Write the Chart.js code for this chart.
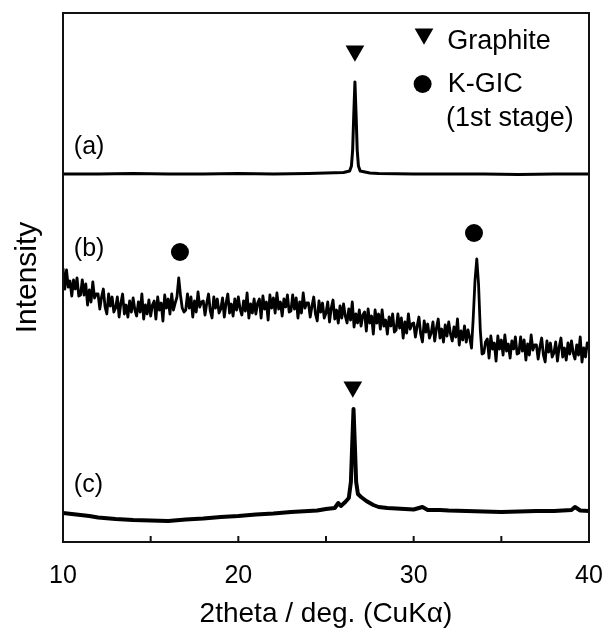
<!DOCTYPE html>
<html>
<head>
<meta charset="utf-8">
<script src="https://cdn.jsdelivr.net/npm/chart.js@4/dist/chart.umd.min.js"></script>
<style>
  body { margin: 0; background: #fff; }
  canvas { display: block; }
</style>
</head>
<body>
<canvas id="xrd" width="608" height="633"></canvas>
<script>
// (a) graphite
var aX = [10, 12, 14, 16, 18, 20, 22, 24, 25, 26, 26.35, 26.45, 26.52, 26.58, 26.65, 26.72, 26.78, 26.85, 26.95, 27.5, 28, 30, 32, 34, 36, 38, 40];
var aY = [368, 368, 368.5, 368, 368, 368.5, 368, 368.5, 369, 369.5, 371, 376, 392, 425, 460, 425, 392, 376, 371, 369, 368.5, 368, 368, 368, 367.5, 368, 368];

// (b) K-GIC, step scan 10-40 deg, 0.1 deg step
var bStart = 10;
var bStep = 0.1;
var bY = [
  274, 253, 272, 255, 261, 246, 262, 253, 264, 246,
  247, 262, 247, 258, 237, 252, 240, 260, 244, 248,
  248, 233, 245, 253, 235, 228, 248, 236, 245, 230,
  234, 245, 225, 239, 248, 228, 237, 225, 241, 230,
  244, 232, 226, 240, 230, 248, 223, 237, 228, 242,
  226, 237, 241, 223, 245, 232, 239, 221, 247, 234,
  243, 228, 248, 232, 239, 245, 264, 247, 234, 230,
  232, 248, 234, 245, 225, 241, 230, 250, 235, 240,
  241, 227, 239, 248, 231, 224, 245, 234, 243, 229,
  233, 244, 225, 239, 248, 229, 238, 226, 243, 232,
  245, 233, 227, 241, 231, 249, 224, 238, 229, 243,
  228, 239, 243, 224, 246, 233, 240, 222, 247, 234,
  244, 229, 249, 233, 240, 226, 243, 235, 247, 230,
  231, 247, 233, 244, 224, 240, 229, 249, 234, 239,
  239, 225, 236, 245, 228, 221, 241, 230, 239, 224,
  229, 240, 220, 234, 242, 223, 232, 219, 236, 224,
  238, 226, 219, 233, 222, 240, 215, 228, 219, 232,
  216, 227, 230, 211, 233, 219, 226, 208, 232, 219,
  228, 213, 232, 216, 222, 208, 225, 216, 228, 210,
  212, 228, 214, 224, 204, 220, 209, 228, 213, 218,
  219, 205, 216, 225, 208, 200, 221, 210, 218, 204,
  209, 220, 201, 214, 223, 204, 213, 200, 217, 206,
  220, 208, 201, 215, 205, 223, 197, 211, 202, 216,
  200, 212, 204, 194, 225, 262, 283, 258, 212, 188,
  189, 200, 203, 184, 206, 193, 199, 181, 206, 193,
  202, 187, 207, 191, 198, 184, 201, 193, 205, 188,
  189, 205, 191, 202, 182, 198, 187, 207, 192, 197,
  197, 183, 195, 204, 187, 180, 201, 190, 199, 185,
  189, 200, 181, 195, 204, 185, 194, 182, 199, 188,
  201, 189, 183, 197, 187, 205, 180, 194, 185, 199,
  193
];

// (c)
var cX = [10, 10.5, 11, 11.5, 12, 13, 14, 15, 16, 17, 18, 19, 20, 21, 22, 23, 24, 24.5, 25, 25.5, 25.7, 25.85, 26.1, 26.3, 26.42, 26.49, 26.57, 26.65, 26.72, 26.82, 27, 27.3, 27.7, 28, 28.5, 29, 30, 30.5, 30.8, 31.5, 32, 33, 34, 35, 36, 37, 38, 39, 39.2, 39.5, 40];
var cY = [29, 28, 27, 26, 24.5, 23, 22, 21.5, 21, 22.5, 23.5, 25, 26, 27.5, 28.5, 30, 31, 31.5, 33, 34, 39, 36, 40, 44, 60, 95, 133, 95, 60, 48, 45, 41, 37, 35, 34, 33.5, 32.5, 35, 32, 32, 31.5, 31, 30.5, 30, 30.5, 31, 31, 32, 35, 31.5, 31];

// peak markers
var graphiteX = [26.65, 26.53, 30.59];
var graphiteY = [491, 155, 508];
var kgicX = [16.67, 33.44, 30.51];
var kgicY = [290, 309, 458];

var xTicks = [10, 20, 30, 40];

function pts(xs, ys) {
  var out = [];
  for (var i = 0; i < ys.length; i++) out.push({x: xs[i], y: ys[i]});
  return out;
}

function bPoints() {
  var out = [];
  for (var i = 0; i < bY.length; i++) out.push({x: +(bStart + i * bStep).toFixed(1), y: bY[i]});
  return out;
}

Chart.defaults.font.family = "'Liberation Sans', Arial, sans-serif";
Chart.defaults.color = '#000';

// frame, inward ticks and the text notes
var decor = {
  id: 'decor',
  afterDraw: function(chart) {
    var ctx = chart.ctx;
    var a = chart.chartArea;
    var xs = chart.scales.x, ys = chart.scales.y;
    ctx.save();
    ctx.strokeStyle = '#111';
    ctx.lineWidth = 2;
    ctx.strokeRect(a.left, a.top, a.right - a.left, a.bottom - a.top);
    ctx.beginPath();
    for (var v = 15; v < 40; v += 5) {
      var px = xs.getPixelForValue(v);
      ctx.moveTo(px, a.bottom);
      ctx.lineTo(px, a.bottom - 6);
    }
    ctx.stroke();

    ctx.fillStyle = '#000';
    ctx.textBaseline = 'alphabetic';
    ctx.font = "25px 'Liberation Sans', Arial, sans-serif";
    ctx.fillText('(a)', xs.getPixelForValue(10.62), ys.getPixelForValue(388));
    ctx.fillText('(b)', xs.getPixelForValue(10.62), ys.getPixelForValue(286));
    ctx.fillText('(c)', xs.getPixelForValue(10.62), ys.getPixelForValue(50));
    ctx.font = "27px 'Liberation Sans', Arial, sans-serif";
    ctx.fillText('Graphite', xs.getPixelForValue(31.91), ys.getPixelForValue(493));
    ctx.fillText('K-GIC', xs.getPixelForValue(31.95), ys.getPixelForValue(450));
    ctx.fillText('(1st stage)', xs.getPixelForValue(31.85), ys.getPixelForValue(416));
    ctx.restore();
  }
};

var ctx = document.getElementById('xrd').getContext('2d');
var xrdChart = new Chart(ctx, {
  type: 'line',
  data: {
    datasets: [
      {data: pts(aX, aY), borderColor: '#000', borderWidth: 3, pointRadius: 0, borderJoinStyle: 'round'},
      {data: bPoints(), borderColor: '#000', borderWidth: 2.8, pointRadius: 0, borderJoinStyle: 'round'},
      {data: pts(cX, cY), borderColor: '#000', borderWidth: 4, pointRadius: 0, borderJoinStyle: 'round'},
      {type: 'scatter', data: pts(graphiteX, graphiteY), pointStyle: 'triangle', pointRotation: 180,
        pointRadius: 10.8, backgroundColor: '#000', borderWidth: 0},
      {type: 'scatter', data: pts(kgicX, kgicY), pointStyle: 'circle',
        pointRadius: 9, backgroundColor: '#000', borderWidth: 0}
    ]
  },
  options: {
    responsive: false,
    animation: false,
    layout: {padding: {left: 0, right: 19, top: 13, bottom: 0}},
    plugins: {legend: {display: false}, tooltip: {enabled: false}},
    scales: {
      x: {
        type: 'linear', min: 10, max: 40,
        grid: {display: false, drawTicks: false},
        border: {display: false},
        ticks: {
          stepSize: 10, padding: 19, font: {size: 25}, color: '#000',
          callback: function(v) { return xTicks.indexOf(v) >= 0 ? v : ''; }
        },
        title: {display: true, text: '2theta / deg. (CuKα)', font: {size: 28}, color: '#000', padding: {top: 0, bottom: 2}},
        afterFit: function(s) { s.height = 91; s.paddingLeft = 0; s.paddingRight = 0; }
      },
      y: {
        min: 0, max: 529,
        grid: {display: false, drawTicks: false},
        border: {display: false},
        ticks: {display: false},
        title: {display: true, text: 'Intensity', font: {size: 30}, color: '#000', padding: {top: 10, bottom: 0}},
        afterFit: function(s) { s.width = 63; }
      }
    }
  },
  plugins: [decor]
});
</script>
</body>
</html>
